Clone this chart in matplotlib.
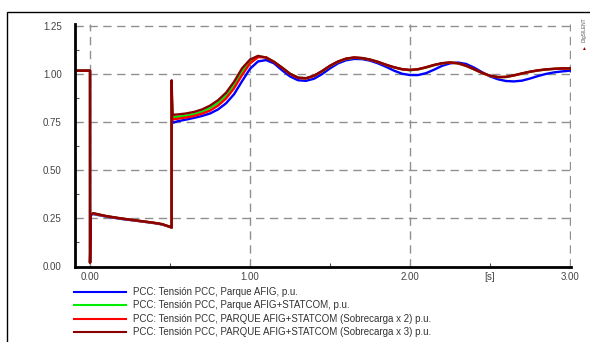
import matplotlib
matplotlib.use("Agg")
import matplotlib.pyplot as plt
from matplotlib.patches import Rectangle

plt.rcParams['font.family'] = ['Liberation Sans', 'DejaVu Sans']

# ---- data ----
t_pre_fault = [-0.094, 0.0, 0.0, 0.005, 0.02, 0.10, 0.20, 0.30, 0.40, 0.45, 0.50, 0.51, 0.51, 0.515]
t_post = [0.55, 0.60, 0.65, 0.70, 0.75, 0.80, 0.85, 0.90, 0.95, 1.00,
          1.05, 1.10, 1.15, 1.20, 1.25, 1.30, 1.35, 1.40, 1.45, 1.50,
          1.55, 1.60, 1.65, 1.70, 1.75, 1.80, 1.85, 1.90, 1.95, 2.00,
          2.05, 2.10, 2.15, 2.20, 2.25, 2.30, 2.35, 2.40, 2.45, 2.50,
          2.55, 2.60, 2.65, 2.70, 2.75, 2.80, 2.85, 2.90, 2.95, 3.00]
time = t_pre_fault + t_post

v_blue = [1.02, 1.02, 0.02, 0.27, 0.273, 0.260, 0.247, 0.237, 0.226, 0.219, 0.206, 0.203, 0.90, 0.748,
          0.757, 0.765, 0.774, 0.784, 0.797, 0.818, 0.850, 0.897, 0.965, 1.030,
          1.068, 1.075, 1.058, 1.022, 0.990, 0.970, 0.967, 0.978, 1.002, 1.032,
          1.058, 1.074, 1.081, 1.080, 1.072, 1.058, 1.040, 1.020, 1.004, 0.997,
          0.997, 1.007, 1.025, 1.045, 1.058, 1.062, 1.055, 1.036, 1.012, 0.990,
          0.975, 0.966, 0.964, 0.968, 0.979, 0.992, 1.003, 1.011, 1.016, 1.020]
v_green = [1.02, 1.02, 0.02, 0.27, 0.276, 0.262, 0.249, 0.238, 0.227, 0.220, 0.206, 0.203, 0.92, 0.778,
           0.780, 0.785, 0.793, 0.806, 0.826, 0.852, 0.890, 0.945, 1.015, 1.068,
           1.095, 1.089, 1.066, 1.036, 1.004, 0.983, 0.980, 0.993, 1.016, 1.044,
           1.066, 1.081, 1.087, 1.085, 1.077, 1.065, 1.050, 1.037, 1.027, 1.022,
           1.026, 1.036, 1.048, 1.058, 1.062, 1.058, 1.045, 1.027, 1.008, 0.993,
           0.986, 0.987, 0.995, 1.005, 1.014, 1.021, 1.026, 1.029, 1.031, 1.031]
v_red = [1.02, 1.02, 0.02, 0.27, 0.276, 0.262, 0.249, 0.238, 0.227, 0.220, 0.206, 0.203, 0.94, 0.766,
         0.770, 0.776, 0.784, 0.796, 0.812, 0.838, 0.875, 0.928, 0.997, 1.058,
         1.090, 1.090, 1.065, 1.035, 1.003, 0.982, 0.979, 0.993, 1.017, 1.045,
         1.067, 1.082, 1.088, 1.085, 1.077, 1.065, 1.050, 1.037, 1.027, 1.023,
         1.027, 1.037, 1.049, 1.058, 1.062, 1.058, 1.045, 1.027, 1.008, 0.993,
         0.986, 0.987, 0.995, 1.005, 1.014, 1.021, 1.026, 1.029, 1.031, 1.031]
v_darkred = [1.02, 1.02, 0.02, 0.27, 0.278, 0.263, 0.250, 0.239, 0.228, 0.221, 0.207, 0.203, 0.97, 0.790,
             0.792, 0.797, 0.805, 0.818, 0.838, 0.866, 0.905, 0.962, 1.032, 1.078,
             1.097, 1.088, 1.066, 1.036, 1.004, 0.984, 0.981, 0.994, 1.018, 1.046,
             1.068, 1.083, 1.089, 1.086, 1.078, 1.066, 1.051, 1.038, 1.028, 1.024,
             1.028, 1.038, 1.050, 1.059, 1.063, 1.059, 1.046, 1.028, 1.009, 0.994,
             0.987, 0.988, 0.996, 1.006, 1.015, 1.022, 1.027, 1.030, 1.032, 1.032]

labels = ["PCC: Tensión PCC, Parque AFIG, p.u.",
          "PCC: Tensión PCC, Parque AFIG+STATCOM, p.u.",
          "PCC: Tensión PCC, PARQUE AFIG+STATCOM (Sobrecarga x 2) p.u.",
          "PCC: Tensión PCC, PARQUE AFIG+STATCOM (Sobrecarga x 3) p.u."]
colors = ["#0000ff", "#00ee00", "#ff0000", "#8b0000"]

x_ticks = [0.0, 1.0, 2.0, 3.0]
x_ticklabels = ["0.00", "1.00", "2.00", "3.00"]
x_minor = [0.5, 1.5, 2.5]
x_minor_labels = ["", "", "[s]"]
y_ticks = [0.0, 0.25, 0.50, 0.75, 1.00, 1.25]
y_ticklabels = ["0.00", "0.25", "0.50", "0.75", "1.00", "1.25"]
y_minor = [0.125, 0.375, 0.625, 0.875, 1.125]

# ---- figure ----
fig = plt.figure(figsize=(5.9, 3.42), dpi=100)
fig.patch.set_facecolor("white")

# outer frame (clipped by figure edge on right/bottom)
fig.add_artist(Rectangle((7 / 590, -0.1), 1.2, 1 - 12 / 342 + 0.1,
                         transform=fig.transFigure, fill=False,
                         edgecolor="black", linewidth=1.0))

ax = fig.add_axes([75 / 590, 1 - 266.5 / 342, (571 - 75) / 590, (266.5 - 24) / 342])

series = [v_blue, v_green, v_red, v_darkred]
handles = []
for vals, c, lab in zip(series, colors, labels):
    h, = ax.plot(time, vals, color=c, linewidth=1.7, label=lab, solid_joinstyle="round")
    handles.append(h)

ax.set_xlim(-0.094, 3.006)
ax.set_ylim(0, 1.263)

ax.set_xticks(x_ticks)
ax.set_xticklabels(x_ticklabels)
ax.set_xticks(x_minor, minor=True)
ax.set_xticklabels(x_minor_labels, minor=True)
ax.set_yticks(y_ticks)
ax.set_yticklabels(y_ticklabels)
ax.set_yticks(y_minor, minor=True)

ax.tick_params(axis="both", which="major", length=0, labelsize=7, colors="#444444")
ax.tick_params(axis="x", which="both", pad=4, labelsize=7, labelcolor="#444444")
ax.tick_params(axis="y", which="major", pad=9.5)
ax.tick_params(axis="both", which="minor", direction="in", length=3, width=0.8, color="#555555")

ax.grid(True, which="major", color="#909090", linestyle=(0, (6, 4)), linewidth=1.0)
ax.set_axisbelow(True)

for s in ["top", "right"]:
    ax.spines[s].set_visible(False)
for s in ["left", "bottom"]:
    ax.spines[s].set_linewidth(2.0)
    ax.spines[s].set_color("black")

# legend below the plot
leg = fig.legend(handles=handles, labels=labels, loc="upper left",
                 bbox_to_anchor=(72 / 590, 1 - 285 / 342), frameon=False,
                 fontsize=7, handlelength=5.4, handletextpad=0.7,
                 labelspacing=0.36, borderaxespad=0, borderpad=0.2)
for txt in leg.get_texts():
    txt.set_color("#333333")
for ln in leg.get_lines():
    ln.set_linewidth(1.5)

# software logo text at the right edge
fig.text(584 / 590, 1 - 30 / 342, "DIgSILENT", rotation=90, fontsize=3.5,
         color="#555555", ha="center", va="center")
fig.text(583 / 590, 1 - 48 / 342, "\u25B2", fontsize=3.5, color="#990000",
         ha="center", va="center")

fig.savefig("out.png", dpi=100)
